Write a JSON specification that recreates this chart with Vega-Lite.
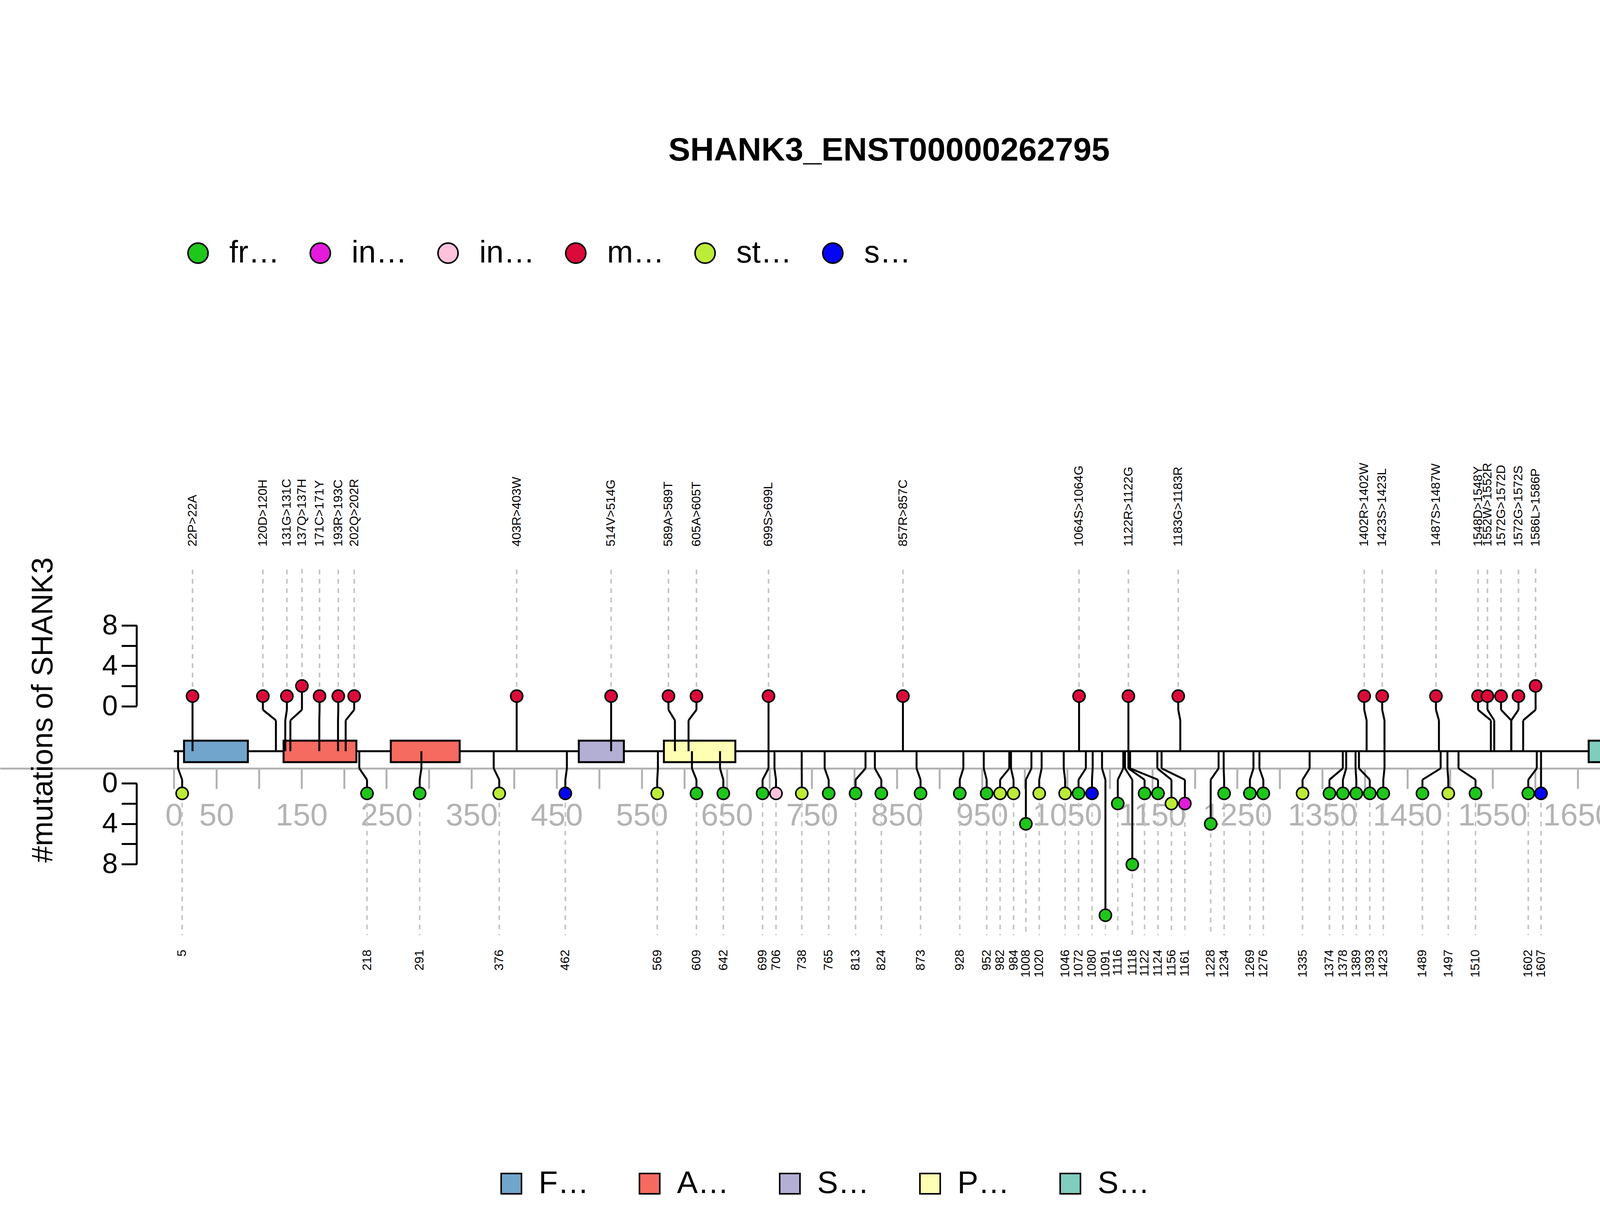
{
  "$schema": "https://vega.github.io/schema/vega-lite/v6.json",
  "width": 4500,
  "height": 3100,
  "autosize": "none",
  "padding": 0,
  "background": "white",
  "config": {"view": {"stroke": null}, "font": "Liberation Sans"},
  "title": {"text": "SHANK3_ENST00000262795", "fontSize": 84, "fontWeight": "bold", "font": "Liberation Sans", "color": "black", "orient": "top", "anchor": "middle", "baseline": "middle", "offset": -470, "dx": 26},
  "datasets": {
    "muts": [
      {"pos": 22, "head": 22, "label": "22P>22A", "type": "missense", "count": 1, "side": "up"},
      {"pos": 120, "head": 104.7, "label": "120D>120H", "type": "missense", "count": 1, "side": "up"},
      {"pos": 131, "head": 132.9, "label": "131G>131C", "type": "missense", "count": 1, "side": "up"},
      {"pos": 137, "head": 150.6, "label": "137Q>137H", "type": "missense", "count": 2, "side": "up"},
      {"pos": 171, "head": 171.3, "label": "171C>171Y", "type": "missense", "count": 1, "side": "up"},
      {"pos": 193, "head": 193.3, "label": "193R>193C", "type": "missense", "count": 1, "side": "up"},
      {"pos": 202, "head": 212, "label": "202Q>202R", "type": "missense", "count": 1, "side": "up"},
      {"pos": 403, "head": 403, "label": "403R>403W", "type": "missense", "count": 1, "side": "up"},
      {"pos": 514, "head": 514, "label": "514V>514G", "type": "missense", "count": 1, "side": "up"},
      {"pos": 589, "head": 581.4, "label": "589A>589T", "type": "missense", "count": 1, "side": "up"},
      {"pos": 605, "head": 614.3, "label": "605A>605T", "type": "missense", "count": 1, "side": "up"},
      {"pos": 699, "head": 699, "label": "699S>699L", "type": "missense", "count": 1, "side": "up"},
      {"pos": 857, "head": 857, "label": "857R>857C", "type": "missense", "count": 1, "side": "up"},
      {"pos": 1064, "head": 1064, "label": "1064S>1064G", "type": "missense", "count": 1, "side": "up"},
      {"pos": 1122, "head": 1122, "label": "1122R>1122G", "type": "missense", "count": 1, "side": "up"},
      {"pos": 1183, "head": 1180.6, "label": "1183G>1183R", "type": "missense", "count": 1, "side": "up"},
      {"pos": 1402, "head": 1399.2, "label": "1402R>1402W", "type": "missense", "count": 1, "side": "up"},
      {"pos": 1423, "head": 1420.3, "label": "1423S>1423L", "type": "missense", "count": 1, "side": "up"},
      {"pos": 1487, "head": 1483.5, "label": "1487S>1487W", "type": "missense", "count": 1, "side": "up"},
      {"pos": 1548, "head": 1533, "label": "1548D>1548Y", "type": "missense", "count": 1, "side": "up"},
      {"pos": 1552, "head": 1544, "label": "1552W>1552R", "type": "missense", "count": 1, "side": "up"},
      {"pos": 1572, "head": 1560, "label": "1572G>1572D", "type": "missense", "count": 1, "side": "up"},
      {"pos": 1572, "head": 1580.5, "label": "1572G>1572S", "type": "missense", "count": 1, "side": "up"},
      {"pos": 1586, "head": 1600.6, "label": "1586L>1586P", "type": "missense", "count": 2, "side": "up"},
      {"pos": 5, "head": 9.8, "label": "5", "type": "stop_gained", "count": 1, "side": "down"},
      {"pos": 218, "head": 227.1, "label": "218", "type": "frameshift", "count": 1, "side": "down"},
      {"pos": 291, "head": 289, "label": "291", "type": "frameshift", "count": 1, "side": "down"},
      {"pos": 376, "head": 382.5, "label": "376", "type": "stop_gained", "count": 1, "side": "down"},
      {"pos": 462, "head": 460.2, "label": "462", "type": "synonymous", "count": 1, "side": "down"},
      {"pos": 569, "head": 568.2, "label": "569", "type": "stop_gained", "count": 1, "side": "down"},
      {"pos": 609, "head": 614.3, "label": "609", "type": "frameshift", "count": 1, "side": "down"},
      {"pos": 642, "head": 645.9, "label": "642", "type": "frameshift", "count": 1, "side": "down"},
      {"pos": 699, "head": 692, "label": "699", "type": "frameshift", "count": 1, "side": "down"},
      {"pos": 706, "head": 707.8, "label": "706", "type": "inframe_insertion", "count": 1, "side": "down"},
      {"pos": 738, "head": 738.1, "label": "738", "type": "stop_gained", "count": 1, "side": "down"},
      {"pos": 765, "head": 769.7, "label": "765", "type": "frameshift", "count": 1, "side": "down"},
      {"pos": 813, "head": 801.3, "label": "813", "type": "frameshift", "count": 1, "side": "down"},
      {"pos": 824, "head": 831.6, "label": "824", "type": "frameshift", "count": 1, "side": "down"},
      {"pos": 873, "head": 877.7, "label": "873", "type": "frameshift", "count": 1, "side": "down"},
      {"pos": 928, "head": 923.8, "label": "928", "type": "frameshift", "count": 1, "side": "down"},
      {"pos": 952, "head": 955.4, "label": "952", "type": "frameshift", "count": 1, "side": "down"},
      {"pos": 982, "head": 971.2, "label": "982", "type": "stop_gained", "count": 1, "side": "down"},
      {"pos": 984, "head": 987, "label": "984", "type": "stop_gained", "count": 1, "side": "down"},
      {"pos": 1008, "head": 1001.5, "label": "1008", "type": "frameshift", "count": 4, "side": "down"},
      {"pos": 1020, "head": 1017.2, "label": "1020", "type": "stop_gained", "count": 1, "side": "down"},
      {"pos": 1046, "head": 1047.6, "label": "1046", "type": "stop_gained", "count": 1, "side": "down"},
      {"pos": 1072, "head": 1063.4, "label": "1072", "type": "frameshift", "count": 1, "side": "down"},
      {"pos": 1080, "head": 1079.2, "label": "1080", "type": "synonymous", "count": 1, "side": "down"},
      {"pos": 1091, "head": 1095, "label": "1091", "type": "frameshift", "count": 13, "side": "down"},
      {"pos": 1116, "head": 1109.5, "label": "1116", "type": "frameshift", "count": 2, "side": "down"},
      {"pos": 1118, "head": 1126.6, "label": "1118", "type": "frameshift", "count": 8, "side": "down"},
      {"pos": 1122, "head": 1141, "label": "1122", "type": "frameshift", "count": 1, "side": "down"},
      {"pos": 1124, "head": 1156.8, "label": "1124", "type": "frameshift", "count": 1, "side": "down"},
      {"pos": 1156, "head": 1172.6, "label": "1156", "type": "stop_gained", "count": 2, "side": "down"},
      {"pos": 1161, "head": 1188.4, "label": "1161", "type": "inframe_deletion", "count": 2, "side": "down"},
      {"pos": 1228, "head": 1218.7, "label": "1228", "type": "frameshift", "count": 4, "side": "down"},
      {"pos": 1234, "head": 1234.5, "label": "1234", "type": "frameshift", "count": 1, "side": "down"},
      {"pos": 1269, "head": 1264.8, "label": "1269", "type": "frameshift", "count": 1, "side": "down"},
      {"pos": 1276, "head": 1280.6, "label": "1276", "type": "frameshift", "count": 1, "side": "down"},
      {"pos": 1335, "head": 1326.7, "label": "1335", "type": "stop_gained", "count": 1, "side": "down"},
      {"pos": 1374, "head": 1358.3, "label": "1374", "type": "frameshift", "count": 1, "side": "down"},
      {"pos": 1378, "head": 1374.1, "label": "1378", "type": "frameshift", "count": 1, "side": "down"},
      {"pos": 1389, "head": 1389.9, "label": "1389", "type": "frameshift", "count": 1, "side": "down"},
      {"pos": 1393, "head": 1405.7, "label": "1393", "type": "frameshift", "count": 1, "side": "down"},
      {"pos": 1423, "head": 1421.6, "label": "1423", "type": "frameshift", "count": 1, "side": "down"},
      {"pos": 1489, "head": 1467.6, "label": "1489", "type": "frameshift", "count": 1, "side": "down"},
      {"pos": 1497, "head": 1498, "label": "1497", "type": "stop_gained", "count": 1, "side": "down"},
      {"pos": 1510, "head": 1530, "label": "1510", "type": "frameshift", "count": 1, "side": "down"},
      {"pos": 1602, "head": 1592, "label": "1602", "type": "frameshift", "count": 1, "side": "down"},
      {"pos": 1607, "head": 1607, "label": "1607", "type": "synonymous", "count": 1, "side": "down"}
    ],
    "domains": [
      {"name": "FERM_f0", "start": 12, "end": 87},
      {"name": "Ank_2", "start": 129, "end": 214.6},
      {"name": "Ank_2", "start": 255, "end": 336},
      {"name": "SH3_2", "start": 476, "end": 529},
      {"name": "PDZ", "start": 576, "end": 660},
      {"name": "SAM_1", "start": 1663, "end": 1724.5}
    ],
    "yaxis": [
      {"x": -43.6, "y": 115, "y2": 322},
      {"x": -43.6, "y": -82, "y2": -290}
    ]
  },
  "layer": [
    {
      "data": {"name": "muts"},
      "transform": [
        {"calculate": "datum.side == 'up' ? 115 + 26 * datum.count : -82 - 26 * datum.count", "as": "headY"},
        {"calculate": "datum.side == 'up' ? 467 : -471", "as": "dashEnd"}
      ],
      "mark": {"type": "rule", "color": "#c4c4c4", "strokeWidth": 4, "strokeDash": [12, 12]},
      "encoding": {
        "x": {"field": "head", "type": "quantitative", "scale": {"domain": [-204.3, 1861.8], "nice": false, "zero": false},
          "axis": {"orient": "bottom", "offset": -1133, "values": [0,50,100,150,200,250,300,350,400,450,500,550,600,650,700,750,800,850,900,950,1000,1050,1100,1150,1200,1250,1300,1350,1400,1450,1500,1550,1600,1650,1700,1750],
            "labelExpr": "datum.value == 0 || datum.value % 100 == 50 ? datum.label : ''", "title": null, "grid": false,
            "domainColor": "#b3b3b3", "domainWidth": 5, "tickColor": "#b3b3b3", "tickWidth": 5, "tickSize": 52,
            "labelColor": "#b3b3b3", "labelFontSize": 80, "labelFont": "Liberation Sans", "labelPadding": 30, "labelOverlap": false, "labelFlush": false, "format": "d"}},
        "y": {"field": "headY", "type": "quantitative", "scale": {"domain": [-1177, 1923], "nice": false, "zero": false},
          "axis": {"orient": "left", "offset": -350, "domain": false, "grid": false,
            "values": [115, 166.8, 218.6, 270.4, 322, -82, -133.8, -185.6, -237.4, -289],
            "labelExpr": "datum.value == 115 || datum.value == -82 ? '0' : (datum.value == 218.6 || datum.value == -185.6 ? '4' : (datum.value == 322 || datum.value == -289 ? '8' : ''))",
            "tickColor": "black", "tickWidth": 5, "tickSize": 39, "labelFontSize": 72, "labelColor": "black", "labelFont": "Liberation Sans", "labelPadding": 10,
            "title": "#mutations of SHANK3", "titleFontSize": 76, "titleFontWeight": "normal", "titleFont": "Liberation Sans", "titleColor": "black",
            "titleX": -240, "titleY": 1817, "titleAngle": 270, "titleAlign": "center", "titleBaseline": "middle"}},
        "y2": {"field": "dashEnd"}
      }
    },
    {
      "data": {"values": [{"s": 0, "e": 1750, "y": 0}]},
      "mark": {"type": "rule", "color": "black", "strokeWidth": 5},
      "encoding": {"x": {"field": "s", "type": "quantitative"}, "x2": {"field": "e"}, "y": {"field": "y", "type": "quantitative"}}
    },
    {
      "data": {"name": "domains"},
      "transform": [
        {"calculate": "27", "as": "top"},
        {"calculate": "-28", "as": "bottom"}
      ],
      "mark": {"type": "rect", "stroke": "black", "strokeWidth": 5},
      "encoding": {
        "x": {"field": "start", "type": "quantitative"}, "x2": {"field": "end"},
        "y": {"field": "top", "type": "quantitative"}, "y2": {"field": "bottom"},
        "fill": {"field": "name", "type": "nominal",
          "scale": {"domain": ["FERM_f0", "Ank_2", "SH3_2", "PDZ", "SAM_1"], "range": ["#72A5CC", "#F56B60", "#B3AED3", "#FFFFB3", "#80CDBE"]},
          "legend": {"orient": "none", "legendX": 1269, "legendY": 2990, "direction": "horizontal", "columns": 5, "title": null,
            "symbolType": "square", "symbolSize": 2700, "symbolStrokeColor": "black", "symbolStrokeWidth": 4,
            "labelFontSize": 80, "labelFont": "Liberation Sans", "labelColor": "black", "labelOffset": 30, "columnPadding": 115}}
      }
    },
    {
      "data": {"name": "muts"},
      "transform": [
        {"calculate": "0", "as": "base"},
        {"calculate": "datum.side == 'up' ? 79 : -44", "as": "e1"}
      ],
      "mark": {"type": "rule", "color": "black", "strokeWidth": 5},
      "encoding": {"x": {"field": "pos", "type": "quantitative"}, "y": {"field": "base", "type": "quantitative"}, "y2": {"field": "e1"}}
    },
    {
      "data": {"name": "muts"},
      "transform": [
        {"calculate": "datum.side == 'up' ? 79 : -44", "as": "e1"},
        {"calculate": "datum.side == 'up' ? 106 : -73", "as": "e2"}
      ],
      "mark": {"type": "rule", "color": "black", "strokeWidth": 5},
      "encoding": {"x": {"field": "pos", "type": "quantitative"}, "x2": {"field": "head"}, "y": {"field": "e1", "type": "quantitative"}, "y2": {"field": "e2"}}
    },
    {
      "data": {"name": "muts"},
      "transform": [
        {"calculate": "datum.side == 'up' ? 106 : -73", "as": "e2"},
        {"calculate": "datum.side == 'up' ? 115 + 26 * datum.count : -82 - 26 * datum.count", "as": "headY"}
      ],
      "mark": {"type": "rule", "color": "black", "strokeWidth": 5},
      "encoding": {"x": {"field": "head", "type": "quantitative"}, "y": {"field": "e2", "type": "quantitative"}, "y2": {"field": "headY"}}
    },
    {
      "data": {"name": "yaxis"},
      "mark": {"type": "rule", "color": "black", "strokeWidth": 5},
      "encoding": {"x": {"field": "x", "type": "quantitative"}, "y": {"field": "y", "type": "quantitative"}, "y2": {"field": "y2"}}
    },
    {
      "data": {"name": "muts"},
      "transform": [{"calculate": "datum.side == 'up' ? 115 + 26 * datum.count : -82 - 26 * datum.count", "as": "headY"}],
      "mark": {"type": "point", "shape": "circle", "filled": true, "opacity": 1, "size": 950, "stroke": "black", "strokeWidth": 4},
      "encoding": {
        "x": {"field": "head", "type": "quantitative"},
        "y": {"field": "headY", "type": "quantitative"},
        "color": {"field": "type", "type": "nominal",
          "scale": {"domain": ["frameshift", "inframe_deletion", "inframe_insertion", "missense", "stop_gained", "synonymous"], "range": ["#1EC71A", "#E41BDD", "#FFC2DD", "#DC0A3B", "#BCEB38", "#0505F5"]},
          "legend": {"orient": "none", "legendX": 467, "legendY": 608, "direction": "horizontal", "columns": 6, "title": null,
            "symbolType": "circle", "symbolSize": 2640, "symbolStrokeColor": "black", "symbolStrokeWidth": 4, "symbolOpacity": 1,
            "labelFontSize": 80, "labelFont": "Liberation Sans", "labelColor": "black", "labelOffset": 40, "columnPadding": 64}}
      }
    },
    {
      "data": {"name": "muts"},
      "transform": [{"filter": "datum.side == 'up'"}, {"calculate": "524", "as": "ly"}],
      "mark": {"type": "text", "angle": 270, "align": "left", "baseline": "middle", "fontSize": 32, "font": "Liberation Sans", "color": "black"},
      "encoding": {"x": {"field": "head", "type": "quantitative"}, "y": {"field": "ly", "type": "quantitative"}, "text": {"field": "label"}}
    },
    {
      "data": {"name": "muts"},
      "transform": [{"filter": "datum.side == 'down'"}, {"calculate": "-508", "as": "ly"}],
      "mark": {"type": "text", "angle": 270, "align": "right", "baseline": "middle", "fontSize": 32, "font": "Liberation Sans", "color": "black"},
      "encoding": {"x": {"field": "head", "type": "quantitative"}, "y": {"field": "ly", "type": "quantitative"}, "text": {"field": "label"}}
    }
  ]
}
